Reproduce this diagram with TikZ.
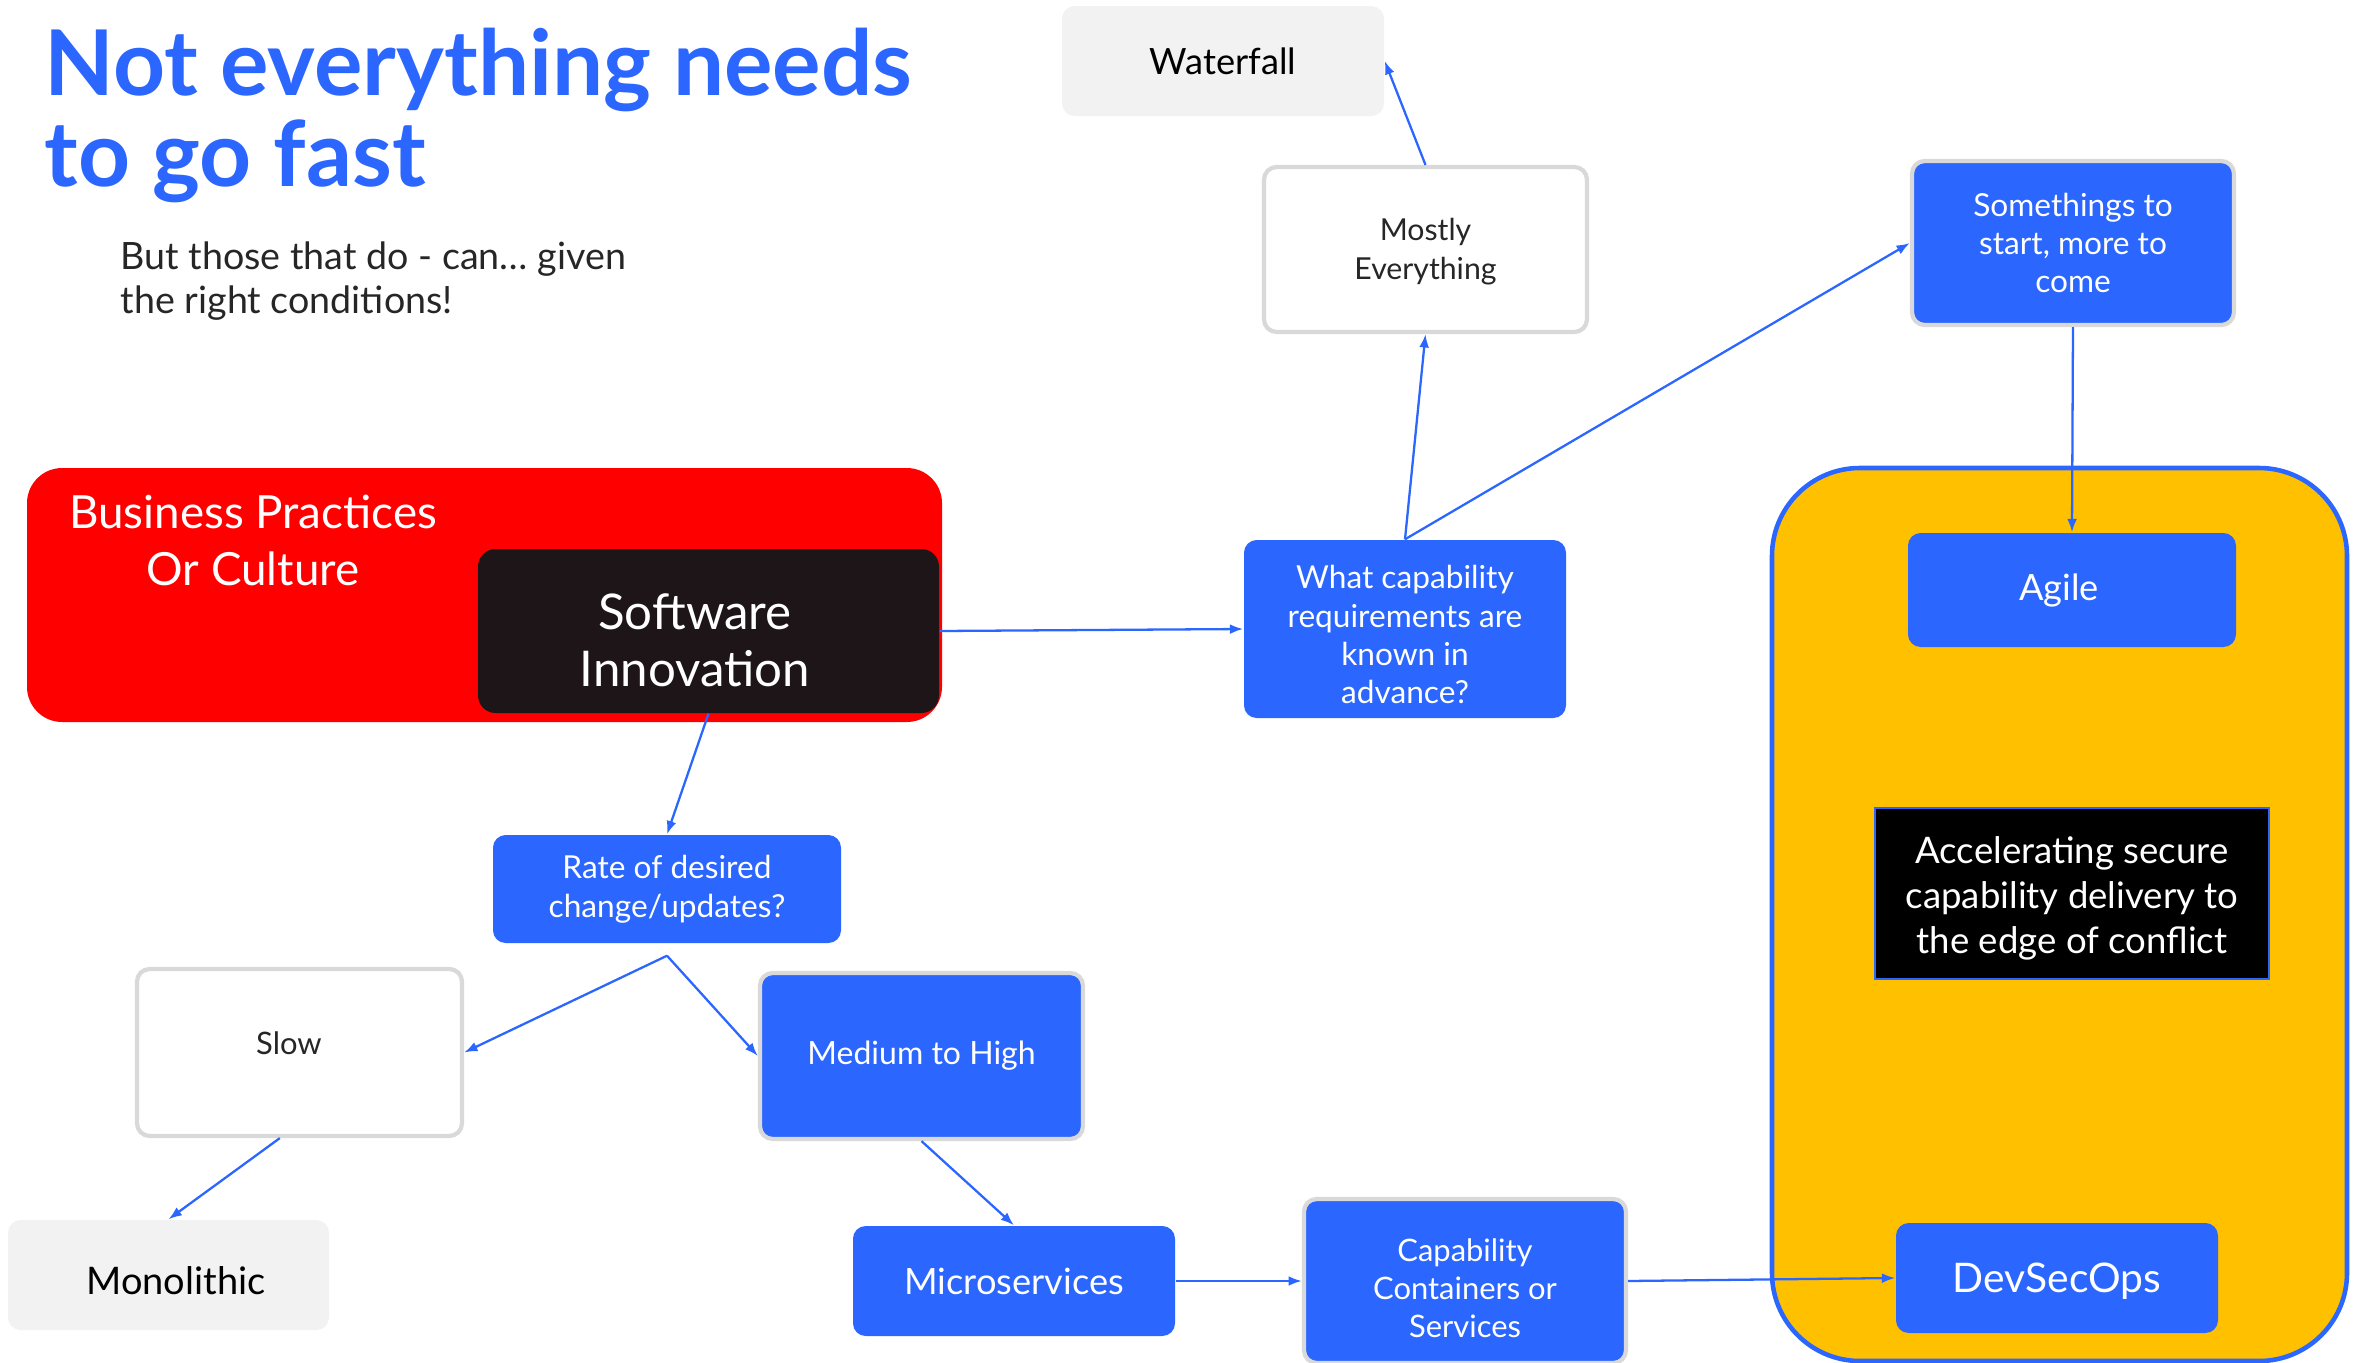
\documentclass[tikz,border=0pt]{standalone}
\usepackage{fontspec}
\setmainfont{Lato}
\usetikzlibrary{arrows.meta,calc}
\definecolor{flowblue}{HTML}{2B66FF}
\definecolor{edgegray}{HTML}{D9D9D9}
\definecolor{palegray}{HTML}{F2F2F2}
\definecolor{ink}{HTML}{262626}
\definecolor{gold}{HTML}{FFC000}
\definecolor{plum}{HTML}{1E1519}
% invisible strut that lowers a label inside its box
\newcommand{\padtop}[1]{\rule{0pt}{#1}}
\begin{document}
\begin{tikzpicture}[x=0.01cm,y=-0.01cm,
  sz/.style 2 args={minimum width=#1*0.01cm, minimum height=#2*0.01cm},
  fs/.style 2 args={font=\fontsize{#1}{#2}\selectfont},
  box/.style={align=center, inner sep=0pt, rounded corners=3.6pt},
  bluebox/.style={box, fill=flowblue, text=white},
  bluerim/.style={bluebox, draw=edgegray, line width=1.2pt},
  whiterim/.style={box, fill=white, draw=edgegray, line width=1.2pt, text=ink},
  palebox/.style={box, fill=palegray, text=black},
  conn/.style={draw=flowblue, line width=0.65pt, -{Latex[length=3.8pt,width=2.8pt]}}
]
\useasboundingbox (0,0) rectangle (2359,1363);

% heading
\node[anchor=north west, align=left, inner sep=0pt, text=flowblue,
      font=\fontsize{25.8}{25.9}\selectfont\bfseries] (title) at (44,27)
  {Not everything needs\\to go fast};
\node[anchor=north west, align=left, inner sep=0pt, text=ink, fs={10.7}{12.4}] (subtitle) at (120,241)
  {But those that do - can\dots{} given\\the right conditions!};

% culture block with the innovation core
\node[box, rounded corners=10pt, fill=red, sz={915}{254}] (culture) at (484.5,595) {};
\node[anchor=north, align=center, inner sep=0pt, text=white, fs={13}{16.2}] (culturelabel) at (253,494)
  {Business Practices\\Or Culture};
\node[box, rounded corners=5pt, fill=plum, text=white, sz={461}{164}, fs={14}{16.2}] (soft) at (708.5,631)
  {\hspace*{-7.7pt}\padtop{15.4pt}Software\\\hspace*{-7.7pt}Innovation};

% requirements branch
\node[bluebox, sz={322}{178}, fs={9}{10.9}] (whatcap) at (1405,629)
  {\padtop{10pt}What capability\\requirements are\\known in\\advance?};
\node[whiterim, sz={323}{165}, fs={8.6}{11.1}] (mostly) at (1425.5,249.5) {\padtop{7.6pt}Mostly\\Everything};
\node[palebox, sz={322}{110}, fs={10.3}{12}] (waterfall) at (1223,61) {Waterfall};
\node[bluerim, sz={322}{164}, fs={9}{10.9}] (something) at (2073,243) {Somethings to\\start, more to\\come};

% delivery container
\node[box, rounded corners=25pt, fill=gold, draw=flowblue, line width=1.3pt, sz={575}{893}] (edgebox) at (2059.5,914.5) {};
\node[bluebox, sz={328}{114}, fs={10.3}{12}] (agile) at (2072,590) {\hspace*{-7.3pt}Agile};
\node[align=center, inner sep=0pt, fill=black, draw=flowblue, line width=0.6pt, text=white,
      sz={394}{171}, fs={10.4}{12.8}] (mission) at (2072,893.5)
  {\padtop{10.2pt}Accelerating secure\\capability delivery to\\the edge of conflict};
\node[bluebox, sz={322}{110}, fs={11.6}{13}, text depth=0pt] (devsec) at (2057,1278) {DevSecOps};

% rate-of-change branch
\node[bluebox, sz={348}{108}, fs={9}{11.1}] (rate) at (667,889) {Rate of desired\\change/updates?};
\node[whiterim, sz={325}{167}, fs={8.8}{10.5}, text depth=5.2pt] (slow) at (299.5,1052.5) {\hspace*{-6pt}Slow};
\node[bluerim, sz={323}{166}, fs={9.1}{11}] (medium) at (921.5,1056) {Medium to High};
\node[palebox, sz={321}{110}, fs={10.8}{12}] (mono) at (168.5,1275) {\hspace*{4.2pt}\padtop{11.3pt}Monolithic};
\node[bluebox, sz={322}{110}, fs={10.3}{12}] (micro) at (1014,1281) {Microservices};
\node[bluerim, sz={322}{164}, fs={8.8}{10.9}] (capcont) at (1465,1281) {\padtop{10.6pt}Capability\\Containers or\\Services};

% connectors
\coordinate (fork) at ($(rate.south)+(0,12)$);
\draw[conn] (soft.east) -- (whatcap.west);
\draw[conn] (whatcap.north) -- (mostly.south);
\draw[conn] (whatcap.north) -- (something.west);
\draw[conn] (mostly.north) -- (waterfall.east);
\draw[conn] (something.south) -- (agile.north);
\draw[conn] (soft.south) -- (rate.north);
\draw[conn] (fork) -- (slow.east);
\draw[conn] (fork) -- (medium.west);
\draw[conn] ([xshift=-5.6pt]slow.south) -- (mono.north);
\draw[conn] (medium.south) -- (micro.north);
\draw[conn] (micro.east) -- (capcont.west);
\draw[conn] (capcont.east) -- (devsec.west);
\end{tikzpicture}
\end{document}
